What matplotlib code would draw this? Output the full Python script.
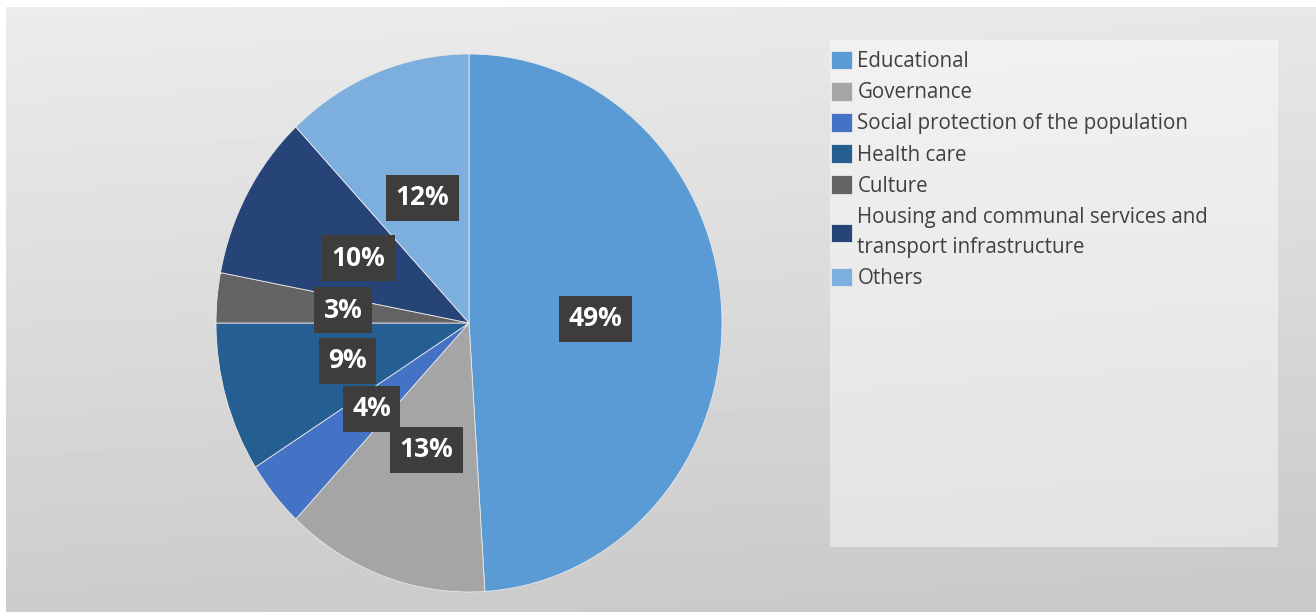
import numpy as np
import matplotlib.pyplot as plt
from matplotlib.patches import Rectangle

# Datos
categorias = ['Educational', 'Governance', 'Social protection of the population',
              'Health care', 'Culture',
              'Housing and communal services and\ntransport infrastructure', 'Others']
valores = [49, 13, 4, 9, 3, 10, 12]
colores = ['#5B9BD5', '#A5A5A5', '#4472C4', '#255E91', '#636363', '#264478', '#7CAFDD']

W, H = 1316, 612
fig = plt.figure(figsize=(W / 100, H / 100), dpi=100)
fig.patch.set_facecolor('white')

# Fondo con degradado gris
bg = fig.add_axes([6 / W, 0, 1 - 6 / W, 1 - 7 / H])
vert = np.linspace(0.925, 0.80, 200)[:, None]
horiz = 1 - 0.02 * np.linspace(0, 1, 300)[None, :]
grad = vert * horiz
bg.imshow(grad, cmap='gray', vmin=0, vmax=1, aspect='auto', extent=[0, 1, 0, 1])
bg.set_axis_off()

# Caja de la leyenda
lx0, ly0, lx1, ly1 = 830, 40, 1278, 547
fig.patches.append(Rectangle((lx0 / W, 1 - ly1 / H), (lx1 - lx0) / W, (ly1 - ly0) / H,
                             transform=fig.transFigure, facecolor='white', alpha=0.45,
                             edgecolor='none', zorder=1))

# Gráfico de torta
cx, cy, rx, ry = 469, 323, 253, 269
lim = 1.02
ax = fig.add_axes([(cx - lim * rx) / W, (H - cy - lim * ry) / H, 2 * lim * rx / W, 2 * lim * ry / H])
wedges, texts, autotexts = ax.pie(valores, colors=colores, startangle=90, counterclock=False,
                                  autopct='%1.0f%%', pctdistance=0.5,
                                  wedgeprops=dict(edgecolor='#E8E8E8', linewidth=0.6))
ax.set_aspect('auto')
ax.set_xlim(-lim, lim)
ax.set_ylim(-lim, lim)

for t in autotexts:
    t.set_color('white')
    t.set_fontsize(19)
    t.set_fontweight('bold')
    t.set_family('Open Sans')
    t.set_bbox(dict(boxstyle='square,pad=0.36', facecolor='#3F3D3B', edgecolor='none'))

# Leyenda
leg = fig.legend(wedges, categorias, loc='upper left', bbox_to_anchor=(831 / W, 1 - 51 / H),
                 frameon=False, prop={'family': 'Open Sans', 'size': 14.8},
                 labelcolor='#404040', handlelength=1.0, handleheight=1.0,
                 handletextpad=0.28, labelspacing=0.48, borderpad=0, borderaxespad=0)
for txt in leg.get_texts():
    txt.set_linespacing(1.58)

fig.savefig('out.png', dpi=100)
